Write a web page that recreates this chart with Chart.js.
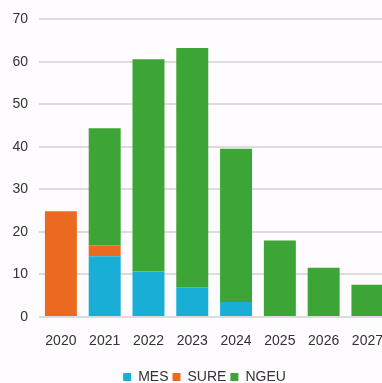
<!DOCTYPE html>
<html>
<head>
<meta charset="utf-8">
<script src="https://cdn.jsdelivr.net/npm/chart.js@4"></script>
<style>
html, body { margin: 0; padding: 0; overflow: hidden; background: #fefcfe; }
#wrap { position: absolute; left: 0; top: 0; width: 391px; height: 394px; }
</style>
</head>
<body>
<div id="wrap"><canvas id="c" width="391" height="394"></canvas></div>
<script>
const categories = ['2020', '2021', '2022', '2023', '2024', '2025', '2026', '2027'];
const mesValues  = [null, 14.3, 10.7, 7.0, 3.5, null, null, null];
const sureValues = [24.9, 2.6, null, null, null, null, null, null];
const ngeuValues = [null, 27.5, 49.9, 56.3, 36.1, 18.0, 11.6, 7.6];
const yTicks = [0, 10, 20, 30, 40, 50, 60, 70];

const FONT = "'Liberation Sans', Arial, sans-serif";

const legendShift = {
  id: 'legendShift',
  afterLayout(chart) {
    chart.legend.left += 9;
    chart.legend.right += 9;
  }
};

new Chart(document.getElementById('c'), {
  type: 'bar',
  data: {
    labels: categories,
    datasets: [
      { label: 'MES', data: mesValues, backgroundColor: '#19aed6', borderWidth: 0 },
      { label: 'SURE', data: sureValues, backgroundColor: '#ec6a1f', borderWidth: 0 },
      { label: 'NGEU', data: ngeuValues, backgroundColor: '#3ca535', borderWidth: 0 }
    ]
  },
  options: {
    responsive: false,
    animation: false,
    devicePixelRatio: 1,
    layout: { padding: { top: 19, left: 0, right: 0, bottom: 0 } },
    datasets: { bar: { barPercentage: 0.73, categoryPercentage: 1.0 } },
    scales: {
      x: {
        stacked: true,
        grid: { display: false },
        border: { display: false },
        ticks: { color: '#333333', font: { family: FONT, size: 14 }, padding: 8, maxRotation: 0 },
        afterFit(scale) { scale.height = 49; }
      },
      y: {
        stacked: true,
        min: 0,
        max: 70,
        afterBuildTicks(scale) { scale.ticks = yTicks.map(v => ({ value: v })); },
        grid: { color: '#dcdcdc', lineWidth: 2, drawTicks: false },
        border: { display: false },
        ticks: { color: '#333333', font: { family: FONT, size: 14 }, padding: 11 },
        afterFit(scale) { scale.width = 39; }
      }
    },
    plugins: {
      tooltip: { enabled: false },
      legend: {
        position: 'bottom',
        labels: {
          color: '#333333',
          font: { family: FONT, size: 14 },
          boxWidth: 8,
          boxHeight: 8,
          padding: 4
        }
      }
    }
  },
  plugins: [legendShift]
});
</script>
</body>
</html>
